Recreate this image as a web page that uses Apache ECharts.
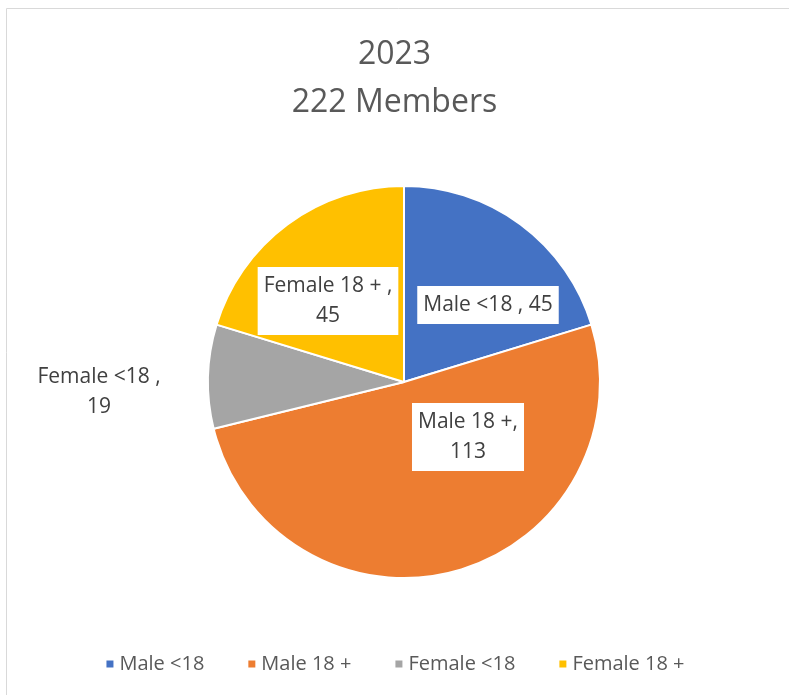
<!DOCTYPE html>
<html><head><meta charset="utf-8">
<script src="https://cdn.jsdelivr.net/npm/echarts@6/dist/echarts.min.js"></script>
<style>html,body{margin:0;padding:0;background:#fff}#c{width:789px;height:695px}</style>
</head><body><div id="c"></div>
<script>
const categories = ['Male <18', 'Male 18 +', 'Female <18', 'Female 18 +'];
const values = [45, 113, 19, 45];
const colors = ['#4472C4', '#ED7D31', '#A5A5A5', '#FFC000'];
const labelTexts = ['Male <18 , 45', 'Male 18 +,\n113', 'Female <18 ,\n19', 'Female 18 + ,\n45'];
const titleLines = ['2023', '222 Members'];

const FONT = 'Open Sans';
const labelPos = [[488, 305], [468, 437], [99, 392], [328, 301]];

const chart = echarts.init(document.getElementById('c'));
chart.setOption({
  animation: false,
  graphic: [{
    type: 'rect', shape: {x: 6.5, y: 8.5, width: 900, height: 900},
    style: {fill: 'none', stroke: '#d9d9d9', lineWidth: 1}, silent: true, z: -1
  }],
  title: {
    text: titleLines.join('\n'), left: 'center', top: 26,
    textStyle: {fontFamily: FONT, fontSize: 32, fontWeight: 'normal', color: '#595959', lineHeight: 48}
  },
  legend: {
    bottom: 16, left: 'center', itemWidth: 9, itemHeight: 9, itemGap: 42, icon: 'rect',
    textStyle: {fontFamily: FONT, fontSize: 20, color: '#595959'}
  },
  series: [{
    type: 'pie', center: [404, 382], radius: 196, startAngle: 90, clockwise: true,
    itemStyle: {borderColor: '#fff', borderWidth: 2},
    labelLine: {show: false},
    label: {
      show: true, position: 'inside',
      formatter: p => labelTexts[p.dataIndex],
      fontFamily: FONT, fontSize: 21, color: '#404040', lineHeight: 30,
      backgroundColor: '#fff', padding: [4, 6]
    },
    labelLayout: p => ({x: labelPos[p.dataIndex][0], y: labelPos[p.dataIndex][1], align: 'center', verticalAlign: 'middle'}),
    data: categories.map((c, i) => {
      const d = {name: c, value: values[i], itemStyle: {color: colors[i]}};
      if (i === 2) d.label = {backgroundColor: 'transparent'};
      return d;
    })
  }]
});
</script></body></html>
